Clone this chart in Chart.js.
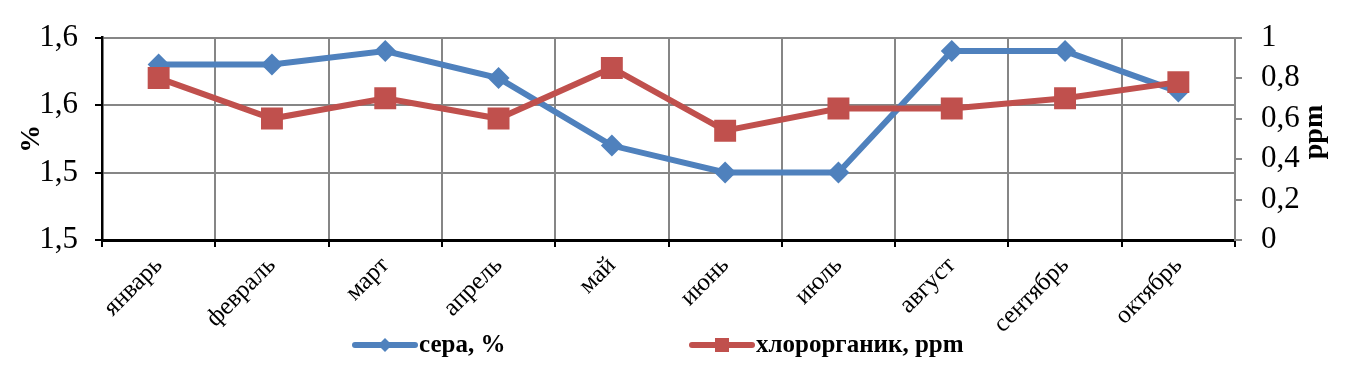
<!DOCTYPE html>
<html>
<head>
<meta charset="utf-8">
<script src="https://cdn.jsdelivr.net/npm/chart.js@4.4.1/dist/chart.umd.min.js"></script>
<style>
  html, body { margin: 0; padding: 0; background: #fff; }
  canvas { display: block; }
</style>
</head>
<body>
<canvas id="chart-sulfur" width="1366" height="373"></canvas>
<script>
// ── data ──────────────────────────────────────────────
const months = ['январь', 'февраль', 'март', 'апрель', 'май', 'июнь', 'июль', 'август', 'сентябрь', 'октябрь'];
const sulfurPct = [1.588, 1.588, 1.594, 1.582, 1.552, 1.540, 1.540, 1.594, 1.594, 1.576];
const organoChlorPpm = [0.80, 0.60, 0.70, 0.60, 0.85, 0.54, 0.65, 0.65, 0.70, 0.78];
const leftTicks = [1.51, 1.54, 1.57, 1.60];
const rightTicks = [0, 0.2, 0.4, 0.6, 0.8, 1];
const seriesNames = ['сера, %', 'хлорорганик, ppm'];

const SERIF = '"Liberation Serif", "Times New Roman", serif';
const BLUE = '#4F81BD';
const RED = '#C0504D';
const GRID = '#868686';

const commaNum = v => String(Math.round(v * 10) / 10).replace('.', ',');

// legend + right axis title drawn by hand (Excel-like spacing)
const extrasPlugin = {
  id: 'extras',
  afterDraw(chart) {
    const c = chart.ctx;
    c.save();
    // right axis title, reads bottom to top
    c.translate(1315, 132);
    c.rotate(-Math.PI / 2);
    c.font = 'bold 28px ' + SERIF;
    c.fillStyle = '#000';
    c.textAlign = 'center';
    c.textBaseline = 'middle';
    c.fillText('ppm', 0, 0);
    c.restore();

    const itemX = [355, 692];
    const y = 345;
    chart.data.datasets.forEach((ds, i) => {
      const x0 = itemX[i], x1 = x0 + 60;
      c.save();
      c.strokeStyle = ds.borderColor;
      c.lineWidth = 6;
      c.lineCap = 'round';
      c.beginPath();
      c.moveTo(x0, y);
      c.lineTo(x1, y);
      c.stroke();
      c.fillStyle = ds.borderColor;
      const mx = (x0 + x1) / 2;
      if (ds.pointStyle === 'rect') {
        c.fillRect(mx - 7, y - 7, 14, 14);
      } else {
        c.beginPath();
        c.moveTo(mx - 7, y);
        c.lineTo(mx, y - 7);
        c.lineTo(mx + 7, y);
        c.lineTo(mx, y + 7);
        c.closePath();
        c.fill();
      }
      c.font = 'bold 25px ' + SERIF;
      c.fillStyle = '#000';
      c.textAlign = 'left';
      c.textBaseline = 'middle';
      c.fillText(ds.label, x1 + 4, y + 1);
      c.restore();
    });
  }
};

new Chart(document.getElementById('chart-sulfur'), {
  type: 'line',
  data: {
    labels: months,
    datasets: [
      {
        label: seriesNames[0],
        data: sulfurPct,
        yAxisID: 'y',
        borderColor: BLUE,
        backgroundColor: BLUE,
        borderWidth: 6,
        tension: 0,
        pointStyle: 'rectRot',
        pointRadius: 11,
        pointBorderWidth: 0,
        pointBackgroundColor: BLUE,
        order: 1
      },
      {
        label: seriesNames[1],
        data: organoChlorPpm,
        yAxisID: 'y1',
        borderColor: RED,
        backgroundColor: RED,
        borderWidth: 6,
        tension: 0,
        pointStyle: 'rect',
        pointRadius: 15.5,
        pointBorderWidth: 0,
        pointBackgroundColor: RED,
        order: 0
      }
    ]
  },
  options: {
    responsive: false,
    animation: false,
    devicePixelRatio: 1,
    layout: { padding: { top: 36, left: 0, right: 0, bottom: 0 } },
    plugins: {
      legend: { display: false },
      tooltip: { enabled: false }
    },
    scales: {
      x: {
        offset: true,
        grid: { offset: true, color: GRID, lineWidth: 2, tickColor: '#000', tickLength: 7 },
        border: { color: '#000', width: 3 },
        ticks: {
          color: '#000',
          font: { family: SERIF, size: 25 },
          minRotation: 45,
          maxRotation: 45,
          padding: 4,
          autoSkip: false
        },
        afterFit: s => { s.height = 133; }
      },
      y: {
        position: 'left',
        min: 1.51,
        max: 1.6,
        afterBuildTicks: s => { s.ticks = leftTicks.map(v => ({ value: v })); },
        grid: { color: GRID, lineWidth: 2, tickColor: '#000', tickLength: 7 },
        border: { color: '#000', width: 2.5 },
        ticks: {
          color: '#000',
          font: { family: SERIF, size: 31 },
          padding: 17,
          callback: v => commaNum(v)
        },
        title: {
          display: true,
          text: '%',
          color: '#000',
          font: { family: SERIF, size: 28, weight: 'bold' },
          padding: { top: 15, bottom: 0 }
        },
        afterFit: s => { s.width = 102; }
      },
      y1: {
        position: 'right',
        min: 0,
        max: 1,
        afterBuildTicks: s => { s.ticks = rightTicks.map(v => ({ value: v })); },
        grid: { drawOnChartArea: false, color: GRID, lineWidth: 2, tickColor: GRID, tickLength: 7 },
        border: { color: GRID, width: 2 },
        ticks: {
          color: '#000',
          font: { family: SERIF, size: 31 },
          padding: 19,
          callback: v => commaNum(v)
        },
        afterFit: s => { s.width = 131; }
      }
    }
  },
  plugins: [extrasPlugin]
});
</script>
</body>
</html>
